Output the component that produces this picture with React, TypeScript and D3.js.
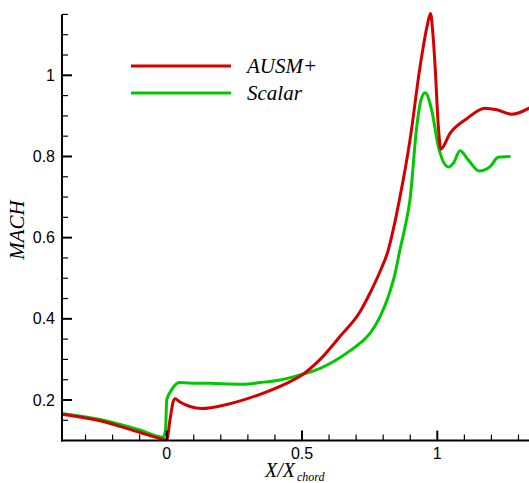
import React from "react";
import * as d3 from "d3";

const W = 529;
const H = 483;

// AUSM+ series (X/Xchord, Mach)
const ausmX = [-0.387, -0.246, -0.099, -0.013, 0.0, 0.012, 0.024, 0.031, 0.049, 0.086, 0.129, 0.222, 0.345, 0.443, 0.505, 0.567, 0.641, 0.715, 0.751, 0.788, 0.819, 0.837, 0.86, 0.899, 0.936, 0.962, 0.975, 0.984, 0.992, 1.004, 1.013, 1.047, 1.109, 1.176, 1.22, 1.275, 1.339];
const ausmM = [0.165, 0.149, 0.12, 0.103, 0.101, 0.15, 0.196, 0.203, 0.195, 0.184, 0.179, 0.189, 0.214, 0.241, 0.264, 0.3, 0.357, 0.418, 0.463, 0.516, 0.57, 0.619, 0.693, 0.84, 1.02, 1.12, 1.152, 1.1, 1.02, 0.873, 0.818, 0.857, 0.893, 0.919, 0.915, 0.904, 0.919];

// Scalar series
const scalarX = [-0.387, -0.246, -0.099, -0.012, -0.004, 0.0, 0.018, 0.047, 0.08, 0.16, 0.283, 0.345, 0.408, 0.468, 0.505, 0.567, 0.62, 0.677, 0.72, 0.751, 0.788, 0.819, 0.844, 0.862, 0.881, 0.899, 0.924, 0.94, 0.955, 0.979, 1.004, 1.041, 1.059, 1.084, 1.115, 1.155, 1.195, 1.225, 1.266];
const scalarM = [0.167, 0.152, 0.126, 0.108, 0.13, 0.2, 0.225, 0.243, 0.242, 0.241, 0.239, 0.243, 0.248, 0.257, 0.264, 0.278, 0.296, 0.321, 0.343, 0.364, 0.405, 0.455, 0.512, 0.57, 0.627, 0.693, 0.873, 0.94, 0.957, 0.915, 0.824, 0.774, 0.783, 0.814, 0.791, 0.764, 0.775, 0.798, 0.8];

const xMajor = [0, 0.5, 1];
const xMajorLabels = ["0", "0.5", "1"];
const xMinor = [-0.3, -0.2, -0.1, 0.1, 0.2, 0.3, 0.4, 0.6, 0.7, 0.8, 0.9, 1.1, 1.2, 1.3];
const yMajor = [0.2, 0.4, 0.6, 0.8, 1];
const yMajorLabels = ["0.2", "0.4", "0.6", "0.8", "1"];
const yMinor = [0.15, 0.25, 0.3, 0.35, 0.45, 0.5, 0.55, 0.65, 0.7, 0.75, 0.85, 0.9, 0.95, 1.05, 1.1, 1.15];

const seriesNames = ["AUSM+", "Scalar"];
const seriesColors = ["#d40000", "#00c800"];

export default function App() {
  const x = d3.scaleLinear().domain([0, 1]).range([166.7, 437.3]);
  const y = d3.scaleLinear().domain([0.2, 1]).range([400, 75.3]);
  const x0 = x(-0.387);
  const x1 = W;
  const yBot = y(0.1);
  const yTop = y(1.15);

  const line = d3
    .line<[number, number]>()
    .x((d) => x(d[0]))
    .y((d) => y(d[1]))
    .curve(d3.curveMonotoneX);

  const ausm = ausmX.map((v, i) => [v, ausmM[i]] as [number, number]);
  const scalar = scalarX.map((v, i) => [v, scalarM[i]] as [number, number]);

  const sans = "'Liberation Sans', Arial, sans-serif";
  const serif = "'Liberation Serif', 'Times New Roman', serif";

  return (
    <div style={{ position: "absolute", left: 0, top: 0 }}>
      <svg width={W} height={H} style={{ display: "block", background: "#fff" }}>
        <defs>
          <clipPath id="plotclip">
            <rect x={x0} y={yTop - 5} width={x1 - x0} height={yBot - yTop + 5} />
          </clipPath>
        </defs>
        {/* curves */}
        <g clipPath="url(#plotclip)" fill="none" strokeWidth={3} strokeLinejoin="round" strokeLinecap="round">
          <path d={line(scalar) || ""} stroke={seriesColors[1]} />
          <path d={line(ausm) || ""} stroke={seriesColors[0]} />
        </g>
        {/* axes */}
        <line x1={x0} x2={x0} y1={yTop} y2={yBot + 1} stroke="#000" strokeWidth={2} />
        <line x1={x0 - 1} x2={x1} y1={yBot} y2={yBot} stroke="#000" strokeWidth={2} />
        {yMajor.map((v) => (
          <line key={"ym" + v} x1={x0} x2={x0 + 10} y1={y(v)} y2={y(v)} stroke="#000" strokeWidth={2} />
        ))}
        {yMinor.map((v) => (
          <line key={"yn" + v} x1={x0} x2={x0 + 6} y1={y(v)} y2={y(v)} stroke="#000" strokeWidth={1.2} />
        ))}
        {xMajor.map((v) => (
          <line key={"xm" + v} x1={x(v)} x2={x(v)} y1={yBot} y2={yBot - 10} stroke="#000" strokeWidth={2} />
        ))}
        {xMinor.map((v) => (
          <line key={"xn" + v} x1={x(v)} x2={x(v)} y1={yBot} y2={yBot - 6} stroke="#000" strokeWidth={1.2} />
        ))}
        {yMajor.map((v, i) => (
          <text key={"yl" + v} x={55} y={y(v) + 5.5} textAnchor="end" fontFamily={sans} fontSize={16} fill="#000">
            {yMajorLabels[i]}
          </text>
        ))}
        {xMajor.map((v, i) => (
          <text key={"xl" + v} x={x(v)} y={459} textAnchor="middle" fontFamily={sans} fontSize={16} fill="#000">
            {xMajorLabels[i]}
          </text>
        ))}
        {/* axis titles */}
        <text x={265} y={477} fontFamily={serif} fontStyle="italic" fontSize={20} fill="#000">
          X/X
          <tspan fontSize={12} dy={4} dx={2}>chord</tspan>
        </text>
        <text
          transform={`translate(24,230) rotate(-90)`}
          textAnchor="middle"
          fontFamily={serif}
          fontStyle="italic"
          fontSize={21}
          fill="#000"
        >
          MACH
        </text>
        {/* legend */}
        {seriesNames.map((n, i) => (
          <g key={n}>
            <line x1={131} x2={231} y1={66 + i * 27} y2={66 + i * 27} stroke={seriesColors[i]} strokeWidth={3} />
            <text x={247} y={72.5 + i * 27} fontFamily={serif} fontStyle="italic" fontSize={21} fill="#000">
              {n}
            </text>
          </g>
        ))}
      </svg>
    </div>
  );
}
